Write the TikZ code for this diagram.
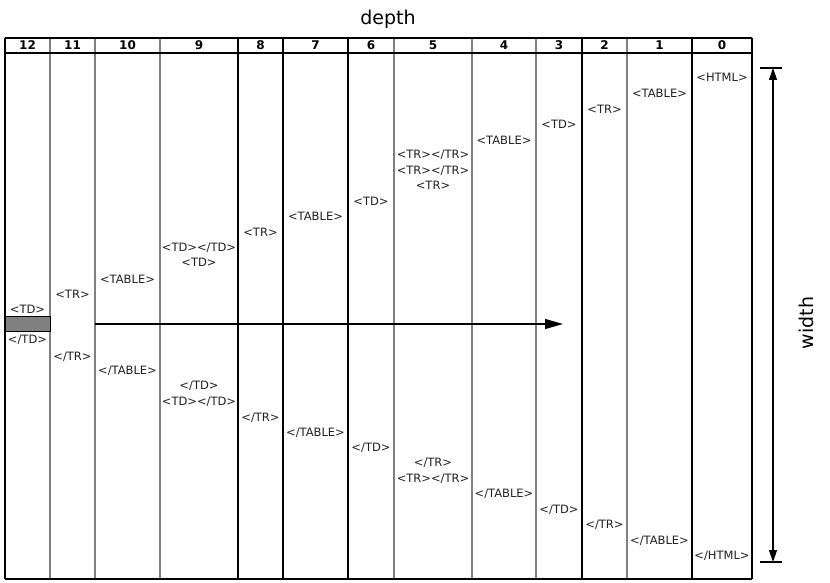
\documentclass[tikz,border=0pt]{standalone}
\usepackage{fontspec}
\setmainfont{DejaVu Sans}
\usetikzlibrary{arrows.meta}
\definecolor{linegray}{HTML}{808080}
\definecolor{txt}{HTML}{202020}
\tikzset{
  tag/.style={inner sep=0pt, text=txt, align=center, font=\fontsize{11.5}{15.5}\selectfont},
  hdr/.style={inner sep=0pt, font=\bfseries\fontsize{12}{12}\selectfont},
  bigtext/.style={inner sep=0pt, font=\fontsize{19}{22}\selectfont},
  gline/.style={draw=linegray, line width=1.6pt},
  bline/.style={draw=black, line width=1.2pt},
  barline/.style={draw=black, line width=1.2pt},
}
\begin{document}
\begin{tikzpicture}[x=1pt,y=-1pt]
\useasboundingbox (0,0) rectangle (830,583);
\fill[white] (0,0) rectangle (830,583);
% title
\node[bigtext] (depth) at (388,19) {depth};
\node[bigtext, rotate=90] (width) at (806,323) {width};
% vertical lines
\foreach \x in {50,95,160,394,472,536,627} \draw[gline] (\x,38) -- (\x,579);
\foreach \x in {5,283,348,582,692,752} \draw[bline] (\x,38) -- (\x,579);
\draw[draw=black, line width=2.2pt] (238,38) -- (238,579);
% horizontal lines
\draw[bline] (5,38) -- (752,38);
\draw[bline] (5,53) -- (752,53);
\draw[bline] (5,579) -- (752,579);
% header
\node[hdr] (h12) at (27.5,45.5) {12};
\node[hdr] (h11) at (72.5,45.5) {11};
\node[hdr] (h10) at (127.5,45.5) {10};
\node[hdr] (h9) at (199,45.5) {9};
\node[hdr] (h8) at (260.5,45.5) {8};
\node[hdr] (h7) at (315.5,45.5) {7};
\node[hdr] (h6) at (371,45.5) {6};
\node[hdr] (h5) at (433,45.5) {5};
\node[hdr] (h4) at (504,45.5) {4};
\node[hdr] (h3) at (559,45.5) {3};
\node[hdr] (h2) at (604.5,45.5) {2};
\node[hdr] (h1) at (659.5,45.5) {1};
\node[hdr] (h0) at (722,45.5) {0};
% gray block
\node[draw=black, line width=1pt, fill=linegray, minimum width=45pt, minimum height=15pt, inner sep=0pt] (block) at (27.5,324) {};
% horizontal arrow
\coordinate (arrs) at (95,324);
\coordinate (arre) at (563,324);
\draw[line width=1.2pt, -{Triangle[length=18pt,width=10pt]}] (arrs) -- (arre);
% width arrow
\coordinate (wtop) at (773,68);
\coordinate (wbot) at (773,562);
\draw[barline] (760,68) -- (782,68);
\draw[barline] (760,562) -- (782,562);
\draw[line width=1.2pt, {Triangle[length=12pt,width=8pt]}-{Triangle[length=12pt,width=8pt]}] (wtop) -- (wbot);
% tags
\node[tag] (o12) at (27.5,309) {<TD>};
\node[tag] (c12) at (27.5,340) {</TD>};
\node[tag] (o11) at (72.5,294) {<TR>};
\node[tag] (c11) at (72.5,357) {</TR>};
\node[tag] (o10) at (127.5,279) {<TABLE>};
\node[tag] (c10) at (127.5,371) {</TABLE>};
\node[tag] (o9) at (199,255) {<TD></TD>\\<TD>};
\node[tag] (c9) at (199,394) {</TD>\\<TD></TD>};
\node[tag] (o8) at (260.5,232) {<TR>};
\node[tag] (c8) at (260.5,418) {</TR>};
\node[tag] (o7) at (315.5,216) {<TABLE>};
\node[tag] (c7) at (315.5,433) {</TABLE>};
\node[tag] (o6) at (371,201) {<TD>};
\node[tag] (c6) at (371,448) {</TD>};
\node[tag] (o5) at (433,170) {<TR></TR>\\<TR></TR>\\<TR>};
\node[tag] (c5) at (433,471) {</TR>\\<TR></TR>};
\node[tag] (o4) at (504,140) {<TABLE>};
\node[tag] (c4) at (504,494) {</TABLE>};
\node[tag] (o3) at (559,124) {<TD>};
\node[tag] (c3) at (559,510) {</TD>};
\node[tag] (o2) at (604.5,109) {<TR>};
\node[tag] (c2) at (604.5,525) {</TR>};
\node[tag] (o1) at (659.5,93) {<TABLE>};
\node[tag] (c1) at (659.5,541) {</TABLE>};
\node[tag] (o0) at (722,77) {<HTML>};
\node[tag] (c0) at (722,556) {</HTML>};
\end{tikzpicture}
\end{document}
